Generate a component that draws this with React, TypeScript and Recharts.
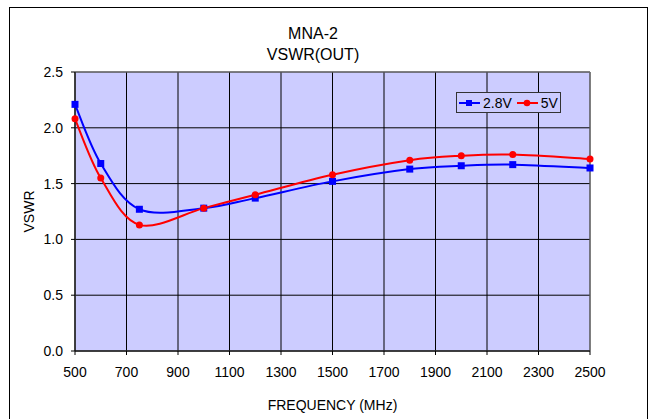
import React from "react"
import { LineChart, Line, XAxis, YAxis, CartesianGrid, ReferenceArea } from "recharts"

const freqs = [500, 600, 750, 1000, 1200, 1500, 1800, 2000, 2200, 2500]
const vswr28 = [2.21, 1.68, 1.27, 1.28, 1.37, 1.52, 1.63, 1.66, 1.67, 1.64]
const vswr5 = [2.08, 1.55, 1.13, 1.28, 1.4, 1.58, 1.71, 1.75, 1.76, 1.72]
const xTicks = [500, 700, 900, 1100, 1300, 1500, 1700, 1900, 2100, 2300, 2500]
const yTicks = [0, 0.5, 1.0, 1.5, 2.0, 2.5]

const data = freqs.map((f, i) => ({ freq: f, v28: vswr28[i], v5: vswr5[i] }))

const FONT = '"Liberation Sans", Arial, sans-serif'

// spreadsheet-style smoothed line (bezier, tangent = (next - prev) / 6)
function smoothCurve(context: any) {
  let pts: [number, number][] = []
  return {
    areaStart() {},
    areaEnd() {},
    lineStart() {
      pts = []
    },
    point(x: number, y: number) {
      pts.push([+x, +y])
    },
    lineEnd() {
      const n = pts.length
      if (!n) return
      context.moveTo(pts[0][0], pts[0][1])
      for (let i = 0; i < n - 1; i++) {
        const p0 = pts[Math.max(i - 1, 0)]
        const p1 = pts[i]
        const p2 = pts[i + 1]
        const p3 = pts[Math.min(i + 2, n - 1)]
        context.bezierCurveTo(
          p1[0] + (p2[0] - p0[0]) / 6,
          p1[1] + (p2[1] - p0[1]) / 6,
          p2[0] - (p3[0] - p1[0]) / 6,
          p2[1] - (p3[1] - p1[1]) / 6,
          p2[0],
          p2[1]
        )
      }
    },
  }
}

const SquareDot = (props: any) => {
  const { cx, cy, index } = props
  return <rect key={`sq-${index}`} x={cx - 3.5} y={cy - 3.5} width={7} height={7} fill="#0000FF" />
}

const CircleDot = (props: any) => {
  const { cx, cy, index } = props
  return <circle key={`ci-${index}`} cx={cx} cy={cy} r={3.5} fill="#FF0000" />
}

export default function App() {
  return (
    <div
      style={{
        position: "absolute",
        left: 0,
        top: 0,
        width: 649,
        height: 419,
        overflow: "hidden",
        background: "#fff",
        fontFamily: FONT,
      }}
    >
      <div
        style={{
          position: "absolute",
          left: 9,
          top: 7,
          width: 637,
          height: 430,
          border: "1.5px solid #000",
        }}
      />
      <div style={{ position: "absolute", left: 213, top: 23, width: 200, textAlign: "center", fontSize: 16, lineHeight: "21px", color: "#000" }}>
        <div>MNA-2</div>
        <div>VSWR(OUT)</div>
      </div>
      <LineChart
        width={649}
        height={419}
        data={data}
        margin={{ top: 72, right: 59, bottom: 0, left: 0 }}
        style={{ position: "absolute", left: 0, top: 0 }}
      >
        <CartesianGrid
          stroke="#000"
          strokeWidth={1}
          fill="#CCCCFF"
          fillOpacity={1}
        />
        <ReferenceArea x1={500} x2={2500} y1={0} y2={2.5} fill="none" stroke="#808080" strokeWidth={1} ifOverflow="visible" />
        <XAxis
          dataKey="freq"
          type="number"
          domain={[500, 2500]}
          ticks={xTicks}
          height={68}
          tickSize={4}
          tickMargin={12}
          stroke="#000"
          tick={{ fill: "#000", fontSize: 14, fontFamily: FONT }}
          label={{ value: "FREQUENCY (MHz)", position: "insideBottom", offset: 9, fill: "#000", fontSize: 14, fontFamily: FONT }}
        />
        <YAxis
          type="number"
          domain={[0, 2.5]}
          ticks={yTicks}
          width={75}
          tickSize={4}
          tickMargin={8}
          stroke="#000"
          tickFormatter={(v: number) => v.toFixed(1)}
          tick={{ fill: "#000", fontSize: 14, fontFamily: FONT }}
          label={{ value: "VSWR", angle: -90, position: "insideLeft", offset: 29, fill: "#000", fontSize: 14, fontFamily: FONT, style: { textAnchor: "middle" } }}
        />
        <Line
          dataKey="v28"
          type={smoothCurve as any}
          stroke="#0000FF"
          strokeWidth={2}
          dot={SquareDot}
          activeDot={false}
          isAnimationActive={false}
        />
        <Line
          dataKey="v5"
          type={smoothCurve as any}
          stroke="#FF0000"
          strokeWidth={2}
          dot={CircleDot}
          activeDot={false}
          isAnimationActive={false}
        />
      </LineChart>
      <div
        style={{
          position: "absolute",
          left: 456,
          top: 92,
          width: 103,
          height: 19,
          border: "1px solid #333",
          background: "#CCCCFF",
          display: "flex",
          alignItems: "center",
          fontSize: 14,
          color: "#000",
        }}
      >
        <svg width={21} height={10} style={{ marginLeft: 2 }}>
          <line x1={0} y1={5} x2={21} y2={5} stroke="#0000FF" strokeWidth={2} />
          <rect x={7} y={2} width={6} height={6} fill="#0000FF" />
        </svg>
        <span style={{ marginLeft: 3 }}>2.8V</span>
        <svg width={21} height={10} style={{ marginLeft: 5 }}>
          <line x1={0} y1={5} x2={21} y2={5} stroke="#FF0000" strokeWidth={2} />
          <circle cx={10} cy={5} r={3.3} fill="#FF0000" />
        </svg>
        <span style={{ marginLeft: 3 }}>5V</span>
      </div>
    </div>
  )
}
